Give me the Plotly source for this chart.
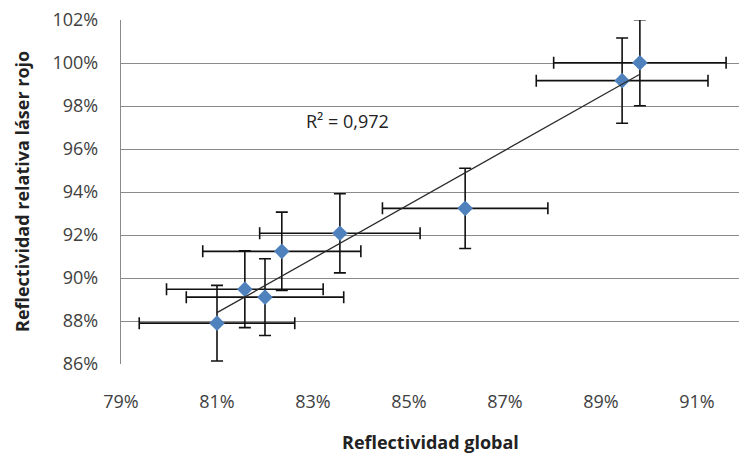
import numpy as np
import plotly.graph_objects as go

# Global reflectivity vs. relative red-laser reflectivity (fractions)
refl_global = [0.810, 0.8158, 0.820, 0.8235, 0.8356, 0.8617, 0.8944, 0.8981]
refl_laser_rojo = [0.879, 0.8948, 0.8911, 0.9124, 0.9208, 0.9324, 0.9918, 1.0001]
error_pct = 2  # percentage error bars on both axes
r2_label = "R² = 0,972"

x_title = "Reflectividad global"
y_title = "Reflectividad relativa láser rojo"

FONT = "Open Sans"
GRID = "#8a8a8a"
BLUE = "#4F81BD"

x = np.array(refl_global)
y = np.array(refl_laser_rojo)
slope, intercept = np.polyfit(x, y, 1)
x_fit = np.array([x.min(), x.max()])
y_fit = slope * x_fit + intercept

fig = go.Figure()

fig.add_trace(go.Scatter(
    x=refl_global, y=refl_laser_rojo, mode="markers",
    marker=dict(symbol="diamond", size=12, color=BLUE, line=dict(width=0)),
    error_x=dict(type="percent", value=error_pct, color="#111111", thickness=1.6, width=6),
    error_y=dict(type="percent", value=error_pct, color="#111111", thickness=1.6, width=6),
    showlegend=False, hoverinfo="x+y",
))

fig.add_trace(go.Scatter(
    x=x_fit, y=y_fit, mode="lines",
    line=dict(color="#2a2a2a", width=1.3),
    showlegend=False, hoverinfo="skip",
))

fig.update_layout(
    width=739, height=455,
    margin=dict(l=121, r=0, t=20, b=91),
    paper_bgcolor="white", plot_bgcolor="white",
    font=dict(family=FONT, size=18, color="#404040"),
    xaxis=dict(
        range=[0.79, 0.91875], tick0=0.79, dtick=0.02, tickformat=".0%",
        showgrid=False, zeroline=False,
        showline=False, ticks="", ticklabelstandoff=25,
        tickfont=dict(size=18, color="#404040"),
    ),
    yaxis=dict(
        range=[0.86, 1.02], tick0=0.86, dtick=0.02, tickformat=".0%",
        showgrid=True, gridcolor=GRID, gridwidth=1.3, zeroline=False,
        showline=True, linecolor=GRID, linewidth=1.3,
        ticks="", ticklabelstandoff=18,
        tickfont=dict(size=18, color="#404040"),
    ),
    annotations=[
        dict(text=r2_label, xref="x", yref="y", x=0.8372, y=0.9730,
             showarrow=False, font=dict(family=FONT, size=18, color="#222222")),
        dict(text=f"<b>{x_title}</b>", xref="paper", yref="paper", x=0.5, y=0,
             xanchor="center", yanchor="middle", yshift=-78, borderpad=0,
             showarrow=False, font=dict(family=FONT, size=18, color="#222222")),
        dict(text=f"<b>{y_title}</b>", xref="paper", yref="paper", x=0, y=0.5,
             xanchor="center", yanchor="middle", xshift=-99, textangle=-90,
             showarrow=False, font=dict(family=FONT, size=18, color="#222222")),
    ],
)

fig.write_html("out.html")
